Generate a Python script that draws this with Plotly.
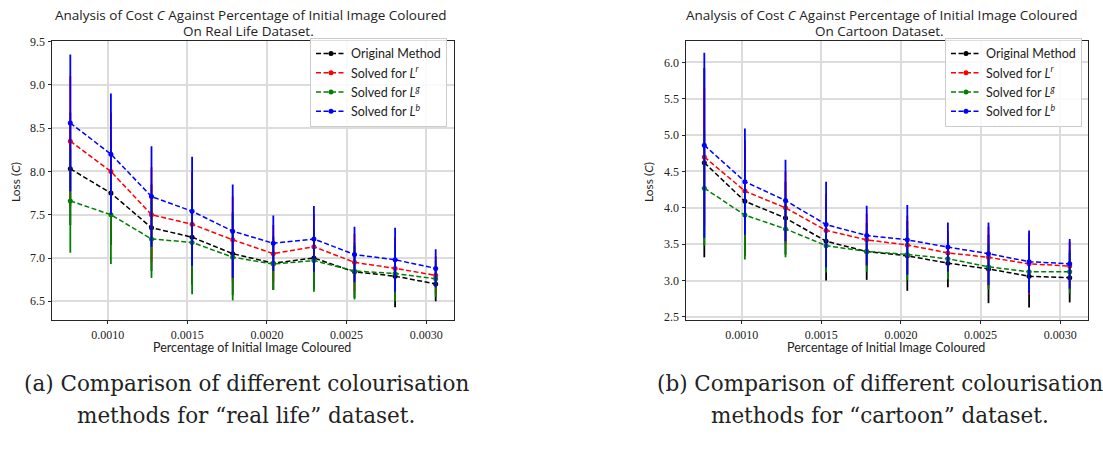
import plotly.graph_objects as go

W, H = 1103, 451

# ---------------- data ----------------
x_vals = [0.000765, 0.00102, 0.001275, 0.00153, 0.001785, 0.00204, 0.002295, 0.00255, 0.002805, 0.00306]

series_names = ["Original Method", "Solved for <i>L</i><sup><i>r</i></sup>",
                "Solved for <i>L</i><sup><i>g</i></sup>", "Solved for <i>L</i><sup><i>b</i></sup>"]
series_colors = ["#000000", "#ff0000", "#008000", "#0000ff"]

# Real life dataset (means and error)
real_orig = [8.03, 7.75, 7.35, 7.24, 7.05, 6.94, 7.00, 6.84, 6.79, 6.70]
real_red = [8.35, 8.00, 7.50, 7.39, 7.21, 7.05, 7.13, 6.95, 6.88, 6.80]
real_green = [7.66, 7.50, 7.22, 7.18, 7.01, 6.93, 6.97, 6.85, 6.82, 6.76]
real_blue = [8.56, 8.20, 7.71, 7.54, 7.31, 7.17, 7.22, 7.04, 6.98, 6.88]
real_orig_err = [0.65, 0.60, 0.50, 0.55, 0.48, 0.31, 0.36, 0.30, 0.36, 0.20]
real_red_err = [0.75, 0.68, 0.55, 0.60, 0.50, 0.33, 0.38, 0.33, 0.36, 0.22]
real_green_err = [0.60, 0.57, 0.45, 0.60, 0.50, 0.30, 0.36, 0.33, 0.32, 0.21]
real_blue_err = [0.79, 0.70, 0.58, 0.63, 0.54, 0.32, 0.38, 0.32, 0.37, 0.22]

# Cartoon dataset (means and error)
cart_orig = [4.62, 4.09, 3.86, 3.54, 3.40, 3.34, 3.24, 3.16, 3.06, 3.04]
cart_red = [4.70, 4.23, 4.00, 3.69, 3.56, 3.49, 3.38, 3.32, 3.23, 3.20]
cart_green = [4.27, 3.90, 3.71, 3.48, 3.40, 3.36, 3.30, 3.19, 3.12, 3.12]
cart_blue = [4.86, 4.36, 4.10, 3.77, 3.62, 3.56, 3.46, 3.37, 3.26, 3.23]
cart_orig_err = [1.30, 0.75, 0.50, 0.54, 0.39, 0.48, 0.33, 0.47, 0.43, 0.34]
cart_red_err = [0.95, 0.70, 0.50, 0.50, 0.36, 0.40, 0.30, 0.42, 0.42, 0.33]
cart_green_err = [0.79, 0.61, 0.39, 0.37, 0.28, 0.35, 0.28, 0.31, 0.28, 0.30]
cart_blue_err = [1.27, 0.73, 0.56, 0.59, 0.41, 0.48, 0.34, 0.43, 0.43, 0.34]

x_ticks = [0.0010, 0.0015, 0.0020, 0.0025, 0.0030]
real_y_ticks = [6.5, 7.0, 7.5, 8.0, 8.5, 9.0, 9.5]
cart_y_ticks = [2.5, 3.0, 3.5, 4.0, 4.5, 5.0, 5.5, 6.0]

title_line1 = "Analysis of Cost <i>C</i> Against Percentage of Initial Image Coloured"
title_line2 = ["On Real Life Dataset.", "On Cartoon Dataset."]
x_title = "Percentage of Initial Image Coloured"
y_title = "Loss (<i>C</i>)"
captions = [["(a) Comparison of different colourisation", "methods for “real life” dataset."],
            ["(b) Comparison of different colourisation", "methods for “cartoon” dataset."]]

# ---------------- helpers ----------------
def px(x):
    return x / W

def py(y):
    return 1 - y / H

SANS = "'Open Sans', Lato, sans-serif"
LEG = "Lato, 'Open Sans', sans-serif"
SERIF = "'Liberation Serif', 'DejaVu Serif', serif"
CAPSERIF = "'DejaVu Serif', serif"

fig = go.Figure()

datasets = [
    (real_orig, real_red, real_green, real_blue, real_orig_err, real_red_err, real_green_err, real_blue_err),
    (cart_orig, cart_red, cart_green, cart_blue, cart_orig_err, cart_red_err, cart_green_err, cart_blue_err),
]

for k, ds in enumerate(datasets):
    means = ds[:4]
    errs = ds[4:]
    xa = "x" if k == 0 else "x2"
    ya = "y" if k == 0 else "y2"
    lg = "legend" if k == 0 else "legend2"
    for i in range(4):
        fig.add_trace(go.Scatter(
            x=x_vals, y=means[i], mode="lines+markers",
            name=series_names[i],
            line=dict(color=series_colors[i], width=1.5, dash="5px,2.5px"),
            marker=dict(color=series_colors[i], size=5),
            error_y=dict(type="data", array=errs[i], symmetric=True,
                         color=series_colors[i], thickness=1.8, width=0),
            xaxis=xa, yaxis=ya, legend=lg,
        ))

axis_common = dict(
    showline=True, linecolor="#262626", linewidth=1, mirror=True,
    showgrid=True, gridcolor="#dcdcdc", gridwidth=1.6,
    zeroline=False, ticks="outside", ticklen=3.5, tickwidth=1, tickcolor="#262626",
    tickfont=dict(family=SERIF, size=12, color="#222222"),
)

left_dom = [px(52), px(454)]
right_dom = [px(686), px(1088)]
y_dom = [py(321), py(36)]

legend_common = dict(xanchor="right", yanchor="middle",
                     bgcolor="rgba(255,255,255,0.85)", bordercolor="#cccccc", borderwidth=1,
                     font=dict(family=LEG, size=12.5, color="#222222"), tracegroupgap=0)

fig.update_layout(
    width=W, height=H,
    margin=dict(l=0, r=0, t=0, b=0),
    paper_bgcolor="white", plot_bgcolor="white",
    xaxis=dict(domain=left_dom, anchor="y", range=[0.00065, 0.003175],
               tickvals=x_ticks, tickformat=".4f", **axis_common),
    yaxis=dict(domain=y_dom, anchor="x", range=[6.285, 9.505],
               tickvals=real_y_ticks, tickformat=".1f", **axis_common),
    xaxis2=dict(domain=right_dom, anchor="y2", range=[0.00065, 0.003175],
                tickvals=x_ticks, tickformat=".4f", **axis_common),
    yaxis2=dict(domain=y_dom, anchor="x2", range=[2.46, 6.29],
                tickvals=cart_y_ticks, tickformat=".1f", **axis_common),
    legend=dict(x=px(447), y=py(78), **legend_common),
    legend2=dict(x=px(1082), y=py(78), **legend_common),
    showlegend=True,
)

annotations = []
title_x = [251, 882]
ylab_x = [15, 648]
xlab_x = [252, 886]
cap_x = [246, 880]
for k in range(2):
    annotations.append(dict(text=title_line1, x=px(title_x[k]), y=py(9), xref="paper", yref="paper",
                            xanchor="center", yanchor="middle", showarrow=False,
                            font=dict(family=SANS, size=13.5, color="#222222")))
    annotations.append(dict(text=title_line2[k], x=px(title_x[k] - 3), y=py(26), xref="paper", yref="paper",
                            xanchor="center", yanchor="middle", showarrow=False,
                            font=dict(family=SANS, size=13.5, color="#222222")))
    annotations.append(dict(text=y_title, x=px(ylab_x[k]), y=py(180), xref="paper", yref="paper",
                            xanchor="center", yanchor="middle", showarrow=False, textangle=-90,
                            font=dict(family=LEG, size=12, color="#222222")))
    annotations.append(dict(text=x_title, x=px(xlab_x[k]), y=py(349), xref="paper", yref="paper",
                            xanchor="center", yanchor="middle", showarrow=False,
                            font=dict(family=LEG, size=12.5, color="#222222")))
    annotations.append(dict(text=captions[k][0], x=px(cap_x[k]), y=py(386), xref="paper", yref="paper",
                            xanchor="center", yanchor="middle", showarrow=False,
                            font=dict(family=CAPSERIF, size=21.5, color="#222222")))
    annotations.append(dict(text=captions[k][1], x=px(cap_x[k]), y=py(419), xref="paper", yref="paper",
                            xanchor="center", yanchor="middle", showarrow=False,
                            font=dict(family=CAPSERIF, size=21.5, color="#222222")))
fig.update_layout(annotations=annotations)

fig.write_html("out.html", config={"displayModeBar": False},
               post_script="document.body.style.margin='0px';document.body.style.overflow='hidden';")
